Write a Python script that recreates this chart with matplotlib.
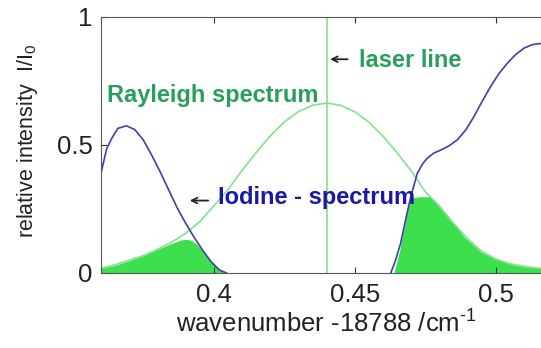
import matplotlib
matplotlib.use('Agg')
from matplotlib import pyplot as plt

plt.rcParams['font.family'] = ['Liberation Sans', 'DejaVu Sans']
plt.rcParams['mathtext.fontset'] = 'custom'
plt.rcParams['mathtext.rm'] = 'Liberation Sans'
plt.rcParams['mathtext.it'] = 'Liberation Sans'

# Rayleigh spectrum (light green line)
rayleigh_x = [0.360, 0.365, 0.370, 0.375, 0.380, 0.385, 0.390, 0.395, 0.400, 0.405,
              0.410, 0.415, 0.420, 0.425, 0.430, 0.435, 0.440, 0.445, 0.450, 0.455,
              0.460, 0.465, 0.470, 0.475, 0.480, 0.485, 0.490, 0.495, 0.500, 0.505,
              0.510, 0.515, 0.520]
rayleigh_y = [0.018, 0.032, 0.050, 0.068, 0.092, 0.120, 0.155, 0.200, 0.262, 0.325,
              0.400, 0.470, 0.535, 0.590, 0.630, 0.655, 0.664, 0.655, 0.630, 0.590,
              0.535, 0.470, 0.400, 0.318, 0.262, 0.195, 0.135, 0.085, 0.055, 0.036,
              0.026, 0.019, 0.015]

# Iodine transmission spectrum (blue line), two absorption-free wings
iodine_left_x = [0.3600, 0.3620, 0.3640, 0.3660, 0.3690, 0.3720, 0.3750, 0.3780, 0.3810,
                 0.3840, 0.3870, 0.3900, 0.3930, 0.3960, 0.3990, 0.4020, 0.4045]
iodine_left_y = [0.390, 0.485, 0.530, 0.565, 0.575, 0.560, 0.520, 0.460, 0.395,
                 0.325, 0.255, 0.195, 0.140, 0.090, 0.045, 0.012, 0.000]
iodine_right_x = [0.4628, 0.4645, 0.4663, 0.4680, 0.4699, 0.4722, 0.4740, 0.4757, 0.4780,
                  0.4805, 0.4835, 0.4864, 0.4895, 0.4923, 0.4952, 0.4982, 0.5010, 0.5041,
                  0.5070, 0.5100, 0.5130, 0.5163, 0.5200]
iodine_right_y = [0.000, 0.050, 0.116, 0.205, 0.298, 0.389, 0.425, 0.448, 0.468,
                  0.480, 0.497, 0.520, 0.560, 0.611, 0.670, 0.728, 0.776, 0.819,
                  0.852, 0.878, 0.892, 0.897, 0.900]

# transmitted part (filled green areas)
fill_left_x = [0.3600, 0.3650, 0.3700, 0.3750, 0.3800, 0.3850, 0.3880, 0.3900,
               0.3920, 0.3940, 0.3960, 0.3990, 0.4020, 0.4045]
fill_left_y = [0.018, 0.030, 0.048, 0.068, 0.092, 0.115, 0.128, 0.132,
               0.128, 0.112, 0.088, 0.045, 0.012, 0.000]
fill_right_x = [0.4639, 0.4660, 0.4681, 0.4699, 0.4730, 0.4770, 0.4800, 0.4829,
                0.4860, 0.4888, 0.4920, 0.4947, 0.5006, 0.5065, 0.5120, 0.5163, 0.5200]
fill_right_y = [0.000, 0.090, 0.220, 0.293, 0.298, 0.298, 0.265, 0.220,
                0.180, 0.142, 0.110, 0.083, 0.051, 0.031, 0.022, 0.018, 0.016]

laser_x = 0.44

fig = plt.figure(figsize=(5.41, 3.48), dpi=100)
ax = fig.add_axes([101 / 541, 75 / 348, 451 / 541, 256 / 348])

ax.plot(rayleigh_x, rayleigh_y, color='#86e08f', linewidth=1.2)
ax.axvline(laser_x, color='#86e08f', linewidth=1.2)
ax.fill_between(fill_left_x, 0, fill_left_y, color='#3de04c', linewidth=0)
ax.fill_between(fill_right_x, 0, fill_right_y, color='#3de04c', linewidth=0)
ax.plot(iodine_left_x, iodine_left_y, color='#4040a8', linewidth=1.2)
ax.plot(iodine_right_x, iodine_right_y, color='#4040a8', linewidth=1.2)

ax.set_xlim(0.36, 0.52)
ax.set_ylim(0, 1)
ax.set_xticks([0.4, 0.45, 0.5])
ax.set_xticklabels(['0.4', '0.45', '0.5'])
ax.set_yticks([0, 0.5, 1])
ax.set_yticklabels(['0', '0.5', '1'])
ax.tick_params(direction='in', length=4, top=True, right=True, labelsize=18.5,
               color='#333333', labelcolor='#222222')
ax.tick_params(axis='x', pad=7)
ax.tick_params(axis='y', pad=6)
for s in ax.spines.values():
    s.set_color('#555555')

ax.set_xlabel('wavenumber -18788 /cm$^{\\text{-}1}$', fontsize=18.5, color='#222222',
              labelpad=3)
ax.set_ylabel('relative intensity  I/I$_0$', fontsize=15.5, color='#222222')
ax.yaxis.set_label_coords(-0.135, 0.515)

ax.text(0.3621, 0.695, 'Rayleigh spectrum', color='#2a9e5a', fontsize=17,
        fontweight='bold', va='center', ha='left')
ax.annotate('', xy=(0.4403, 0.835), xytext=(0.4485, 0.835),
            arrowprops=dict(arrowstyle='->', color='#222222', lw=1.3))
ax.text(0.4515, 0.832, 'laser line', color='#2a9e5a', fontsize=17,
        fontweight='bold', va='center', ha='left')
ax.annotate('', xy=(0.3905, 0.283), xytext=(0.3990, 0.283),
            arrowprops=dict(arrowstyle='->', color='#222222', lw=1.3))
ax.text(0.4015, 0.295, 'Iodine - spectrum', color='#1a1aa0', fontsize=17,
        fontweight='bold', va='center', ha='left')

fig.savefig('out.png', dpi=100)
